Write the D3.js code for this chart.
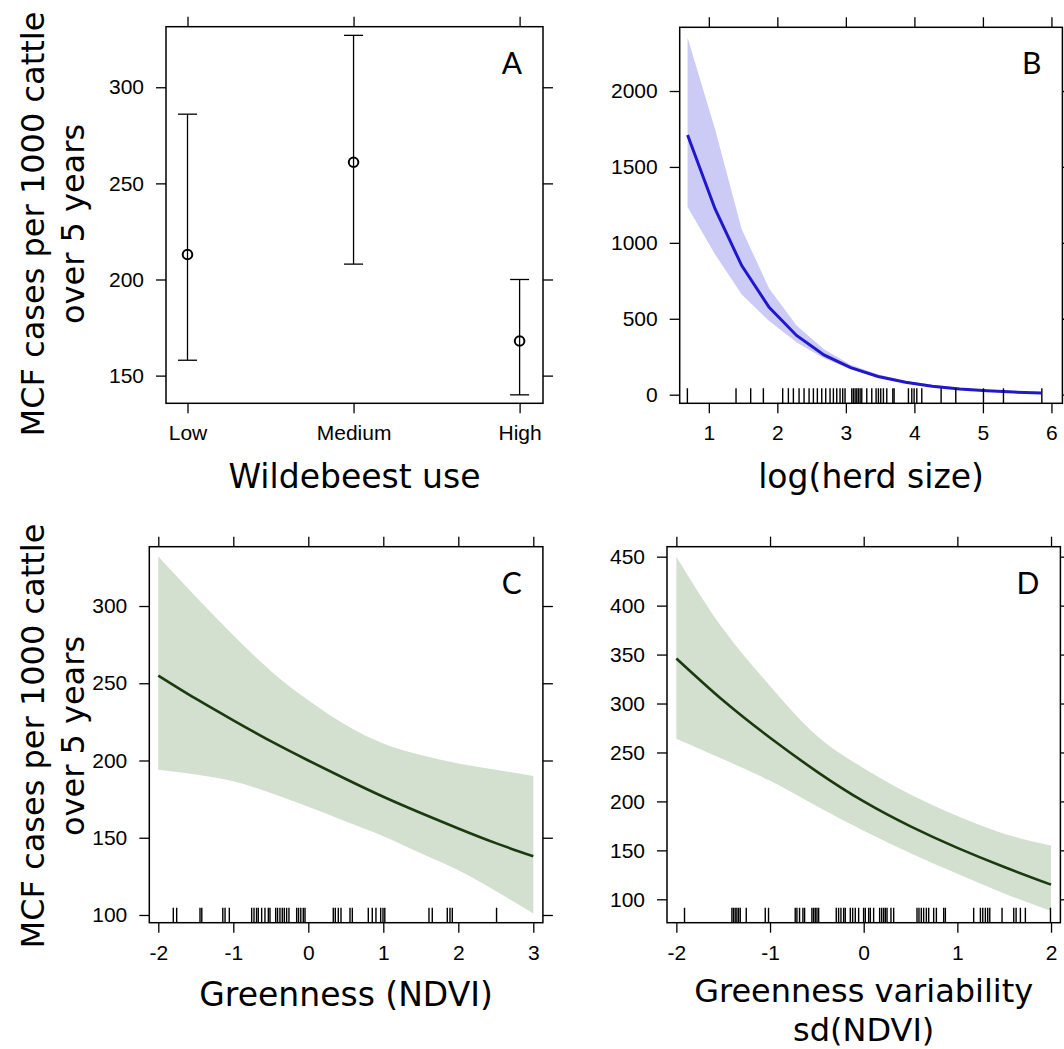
<!DOCTYPE html>
<html>
<head>
<meta charset="utf-8">
<script src="https://cdn.jsdelivr.net/npm/d3@7"></script>
<style>
  html, body { margin: 0; padding: 0; background: #fff; }
  svg { display: block; }
  .tick text { font-family: "Liberation Sans", Arial, sans-serif; font-size: 21px; fill: #000; }
  .tick line { stroke: #000; stroke-width: 1.3px; }
  .title { font-family: "DejaVu Sans", Verdana, sans-serif; font-size: 33px; fill: #000; }
  .ylab { font-family: "DejaVu Sans", Verdana, sans-serif; font-size: 32px; fill: #000; }
  .letter { font-family: "Lato", "Open Sans", sans-serif; font-size: 30px; fill: #000; }
</style>
</head>
<body>
<svg id="chart" width="1064" height="1049"></svg>
<script>
// ---------------- DATA ----------------
// Panel A: Wildebeest use
const wildCats  = ["Low", "Medium", "High"];
const wildFit   = [213, 261, 168];
const wildLower = [158, 208, 140];
const wildUpper = [286, 327, 200];
const aYTicks   = [150, 200, 250, 300];

// Panel B: log(herd size)
const herdX     = [0.69, 1.09, 1.48, 1.88, 2.28, 2.68, 3.07, 3.47, 3.87, 4.26, 4.66, 5.06, 5.45, 5.85];
const herdFit   = [1710, 1225, 850, 575, 390, 262, 178, 120, 82, 56, 38, 26, 17, 11];
const herdUpper = [2350, 1750, 1090, 700, 455, 300, 198, 133, 92, 65, 45, 32, 22, 15];
const herdLower = [1236, 925, 660, 485, 345, 240, 168, 113, 76, 52, 35, 23, 14, 8];
const herdRug   = [0.687, 1.397, 1.611, 1.796, 2.078, 2.161, 2.234, 2.317, 2.39, 2.463, 2.526, 2.584,
                   2.648, 2.706, 2.769, 2.818, 2.867, 2.915, 2.954, 2.988, 3.086, 3.11, 3.135, 3.159,
                   3.183, 3.208, 3.232, 3.305, 3.378, 3.441, 3.475, 3.509, 3.548, 3.597, 3.685, 3.704,
                   3.913, 3.962, 3.996, 4.035, 4.108, 4.39, 4.604, 5.008, 5.3, 5.86];
const bXTicks   = [1, 2, 3, 4, 5, 6];
const bYTicks   = [0, 500, 1000, 1500, 2000];

// Panel C: Greenness (NDVI)
const ndviX     = [-2, -1.5, -1, -0.5, 0, 0.5, 1, 1.5, 2, 2.5, 3];
const ndviFit   = [255, 240, 226, 212.5, 200, 188, 176.5, 166, 156, 146.5, 138];
const ndviUpper = [332, 306, 281, 258, 239, 223, 211, 203.5, 198, 194, 190];
const ndviLower = [194, 191, 186.5, 179, 170, 160.5, 151, 140, 129, 115.5, 101];
const ndviRug   = [-1.80, -1.755, -1.444, -1.42, -1.14, -1.11, -1.053, -0.755, -0.724, -0.69, -0.667,
                   -0.622, -0.578, -0.533, -0.511, -0.435, -0.41, -0.378, -0.347, -0.32, -0.289, -0.258,
                   -0.155, -0.13, -0.1, -0.067, -0.044, 0.333, 0.36, 0.4, 0.436, 0.556, 0.587, 0.8,
                   0.853, 0.902, 0.965, 0.996, 1.02, 1.609, 1.653, 1.853, 1.889, 1.92, 2.51];
const cXTicks   = [-2, -1, 0, 1, 2, 3];
const cYTicks   = [100, 150, 200, 250, 300];

// Panel D: Greenness variability sd(NDVI)
const sdX       = [-2, -1.5, -1, -0.5, 0, 0.5, 1, 1.5, 2];
const sdFit     = [346, 303, 265, 230.5, 200, 174.5, 152.5, 133, 115];
const sdUpper   = [450, 376, 318, 267, 234, 207, 185, 167, 155];
const sdLower   = [264, 243, 221, 195, 170, 147, 126, 106, 88];
const sdRug     = [-1.913, -1.407, -1.39, -1.372, -1.354, -1.336, -1.318, -1.254, -1.051, -1.016,
                   -0.731, -0.713, -0.685, -0.649, -0.631, -0.553, -0.535, -0.517, -0.499, -0.481,
                   -0.293, -0.268, -0.243, -0.214, -0.197, -0.143, -0.118, -0.09, -0.054, -0.001,
                   0.017, 0.053, 0.071, 0.106, 0.17, 0.192, 0.213, 0.231, 0.249, 0.291, 0.32,
                   0.569, 0.59, 0.615, 0.64, 0.669, 0.694, 0.747, 0.776, 0.854, 0.872, 1.174,
                   1.246, 1.271, 1.299, 1.324, 1.346, 1.477, 1.602, 1.627, 1.673, 1.726, 1.994];
const dXTicks   = [-2, -1, 0, 1, 2];
const dYTicks   = [100, 150, 200, 250, 300, 350, 400, 450];

const yLabelLines = ["MCF cases per 1000 cattle", "over 5 years"];

// ---------------- DRAWING ----------------
const svg = d3.select("#chart");
svg.append("rect").attr("width", 1064).attr("height", 1049).attr("fill", "#fff");

const intFmt = d => String(d).replace("\u2212", "-");

function frame(id, box, x, y, xTicks, yTicks, xFmt) {
  const g = svg.append("g");
  const TS = 10, PAD = 12;
  g.append("g").attr("transform", `translate(${box.x0},0)`)
    .call(d3.axisLeft(y).tickValues(yTicks).tickSize(TS).tickPadding(PAD).tickFormat(intFmt))
    .call(s => s.select(".domain").remove());
  g.append("g").attr("transform", `translate(${box.x1},0)`)
    .call(d3.axisRight(y).tickValues(yTicks).tickSize(TS).tickFormat(""))
    .call(s => s.select(".domain").remove());
  g.append("g").attr("transform", `translate(0,${box.y1})`)
    .call(d3.axisBottom(x).tickValues(xTicks).tickSize(TS).tickPadding(PAD).tickFormat(xFmt || intFmt))
    .call(s => s.select(".domain").remove());
  g.append("g").attr("transform", `translate(0,${box.y0})`)
    .call(d3.axisTop(x).tickValues(xTicks).tickSize(TS).tickFormat(""))
    .call(s => s.select(".domain").remove());
  svg.append("clipPath").attr("id", "clip" + id)
    .append("rect").attr("x", box.x0).attr("y", box.y0)
    .attr("width", box.x1 - box.x0).attr("height", box.y1 - box.y0);
  return g;
}

function boxRect(box) {
  svg.append("rect").attr("x", box.x0).attr("y", box.y0)
    .attr("width", box.x1 - box.x0).attr("height", box.y1 - box.y0)
    .attr("fill", "none").attr("stroke", "#000").attr("stroke-width", 1.5);
}

function letter(box, t) {
  svg.append("text").attr("class", "letter")
    .attr("x", box.x1 - 21).attr("y", box.y0 + 47)
    .attr("text-anchor", "end").text(t);
}

function ylabel(cy) {
  const t = svg.append("text").attr("class", "ylab")
    .attr("transform", `translate(0,${cy}) rotate(-90)`)
    .attr("text-anchor", "middle");
  t.append("tspan").attr("x", 0).attr("y", 44).text(yLabelLines[0]);
  t.append("tspan").attr("x", 0).attr("y", 84).text(yLabelLines[1]);
}

function rug(box, x, vals, id) {
  svg.append("g").attr("clip-path", `url(#clip${id})`)
    .selectAll("line").data(vals).join("line")
    .attr("x1", d => x(d)).attr("x2", d => x(d))
    .attr("y1", box.y1 - 15).attr("y2", box.y1)
    .attr("stroke", "#000").attr("stroke-width", 1.4);
}

function bandAndLine(id, x, y, xs, fit, lo, hi, bandColor, lineColor, lw, curve) {
  const pts = xs.map((v, i) => ({x: v, f: fit[i], lo: lo[i], hi: hi[i]}));
  const g = svg.append("g").attr("clip-path", `url(#clip${id})`);
  g.append("path").datum(pts)
    .attr("d", d3.area().x(d => x(d.x)).y0(d => y(d.lo)).y1(d => y(d.hi)).curve(curve))
    .attr("fill", bandColor).attr("stroke", "none");
  g.append("path").datum(pts)
    .attr("d", d3.line().x(d => x(d.x)).y(d => y(d.f)).curve(curve))
    .attr("fill", "none").attr("stroke", lineColor).attr("stroke-width", lw);
}

// ---- Panel A ----
const boxA = {x0: 166, x1: 543, y0: 26.7, y1: 403.3};
const xA = d3.scalePoint().domain(wildCats).range([187.5, 519.6]);
const yA = d3.scaleLinear().domain([135.6, 331.5]).range([boxA.y1, boxA.y0]);
frame("A", boxA, xA, yA, wildCats, aYTicks, d => d);
const gA = svg.append("g");
wildCats.forEach((c, i) => {
  const cx = xA(c);
  gA.append("line").attr("x1", cx).attr("x2", cx).attr("y1", yA(wildLower[i])).attr("y2", yA(wildUpper[i]))
    .attr("stroke", "#000").attr("stroke-width", 1.3);
  [wildLower[i], wildUpper[i]].forEach(v => {
    gA.append("line").attr("x1", cx - 9.5).attr("x2", cx + 9.5).attr("y1", yA(v)).attr("y2", yA(v))
      .attr("stroke", "#000").attr("stroke-width", 1.3);
  });
  gA.append("circle").attr("cx", cx).attr("cy", yA(wildFit[i])).attr("r", 4.8)
    .attr("fill", "none").attr("stroke", "#000").attr("stroke-width", 2);
});
boxRect(boxA);
letter(boxA, "A");
svg.append("text").attr("class", "title").attr("x", (boxA.x0 + boxA.x1) / 2).attr("y", 488)
  .attr("text-anchor", "middle").text("Wildebeest use");

// ---- Panel B ----
const boxB = {x0: 679.7, x1: 1062.4, y0: 27.3, y1: 403.3};
const xB = d3.scaleLinear().domain([0.575, 6.16]).range([boxB.x0, boxB.x1]);
const yB = d3.scaleLinear().domain([-56.7, 2419.6]).range([boxB.y1, boxB.y0]);
frame("B", boxB, xB, yB, bXTicks, bYTicks);
bandAndLine("B", xB, yB, herdX, herdFit, herdLower, herdUpper, "#cccbf6", "#2118c9", 3, d3.curveLinear);
rug(boxB, xB, herdRug, "B");
boxRect(boxB);
letter(boxB, "B");
svg.append("text").attr("class", "title").attr("x", (boxB.x0 + boxB.x1) / 2).attr("y", 488)
  .attr("text-anchor", "middle").text("log(herd size)");

// ---- Panel C ----
const boxC = {x0: 149.3, x1: 542.9, y0: 546.7, y1: 922.7};
const xC = d3.scaleLinear().domain([-2.12, 3.128]).range([boxC.x0, boxC.x1]);
const yC = d3.scaleLinear().domain([95.0, 338.4]).range([boxC.y1, boxC.y0]);
frame("C", boxC, xC, yC, cXTicks, cYTicks);
bandAndLine("C", xC, yC, ndviX, ndviFit, ndviLower, ndviUpper, "#d3dfcf", "#1c3a10", 2.6, d3.curveNatural);
rug(boxC, xC, ndviRug, "C");
boxRect(boxC);
letter(boxC, "C");
svg.append("text").attr("class", "title").attr("x", (boxC.x0 + boxC.x1) / 2).attr("y", 1006)
  .attr("text-anchor", "middle").text("Greenness (NDVI)");

// ---- Panel D ----
const boxD = {x0: 667, x1: 1060.4, y0: 546.7, y1: 922.7};
const xD = d3.scaleLinear().domain([-2.10, 2.10]).range([boxD.x0, boxD.x1]);
const yD = d3.scaleLinear().domain([76.1, 460.2]).range([boxD.y1, boxD.y0]);
frame("D", boxD, xD, yD, dXTicks, dYTicks);
bandAndLine("D", xD, yD, sdX, sdFit, sdLower, sdUpper, "#d3dfcf", "#1c3a10", 2.6, d3.curveNatural);
rug(boxD, xD, sdRug, "D");
boxRect(boxD);
letter(boxD, "D");
const tD = svg.append("text").attr("class", "title").attr("text-anchor", "middle")
  .style("font-size", "32px");
tD.append("tspan").attr("x", (boxD.x0 + boxD.x1) / 2).attr("y", 1002).text("Greenness variability");
tD.append("tspan").attr("x", (boxD.x0 + boxD.x1) / 2).attr("y", 1041).text("sd(NDVI)");

// ---- shared y labels ----
ylabel(224);
ylabel(736);
</script>
</body>
</html>
